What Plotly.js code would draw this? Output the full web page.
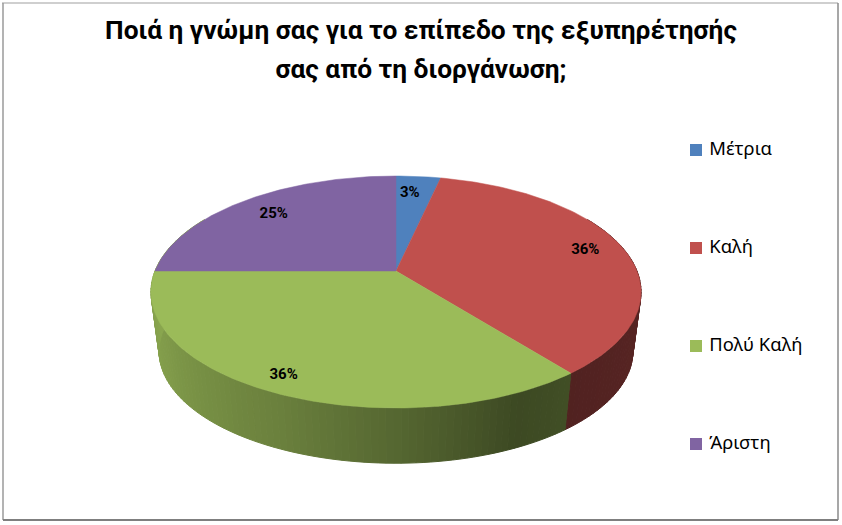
<!DOCTYPE html>
<html><head><meta charset="utf-8">
<script src="https://cdn.plot.ly/plotly-3.0.1.min.js"></script>
<style>html,body{margin:0;padding:0;background:#fff}</style></head>
<body><div id="chart" style="width:842px;height:525px"></div>
<script>
const categories = ["Μέτρια", "Καλή", "Πολύ Καλή", "Άριστη"];
const values = [3.5, 35.8, 35.7, 25];
const valueLabels = ["3%", "36%", "36%", "25%"];
const colors = ["#4F81BD", "#C0504D", "#9BBB59", "#8064A2"];
const titleLines = ["Ποιά η γνώμη σας για το επίπεδο της εξυπηρέτησής", "σας από τη διοργάνωση;"];

// Perspective projection of the pie disc onto the page (pixel-ranged hidden axes)
const K = 0.181;
const TOP = {cx: 396, cy: 271, a: 241, b: 112.2};
const BOTTOM = {cx: 396, cy: 331, a: 233, b: 108.3};
const labelRadius = [0.80, 0.835, 0.89, 0.79];
const labelTurn = [-1.6, -0.3, 0.9, 0];
const legendAt = {x: 696, y0: 150, dy: 98};
// wall brightness against the pie angle (deg from north, clockwise)
const shadeStops = [[60,.46],[100,.46],[142,.42],[155,.39],[180,.55],[205,.69],[240,.82],[270,.89],[300,.89]];

function project(f, theta, r) {
  const X = r * Math.sin(theta), Y = r * Math.cos(theta), w = 1 + K * Y;
  return [f.cx + f.a * X / w, f.cy - f.b * Y / w];
}
function shadeAt(d) {
  for (let i = 1; i < shadeStops.length; i++) {
    const [a, sa] = shadeStops[i-1], [b, sb] = shadeStops[i];
    if (d <= b) return sa + (sb - sa) * (d - a) / (b - a);
  }
  return shadeStops[shadeStops.length-1][1];
}
function rgb(hex, s) {
  const n = parseInt(hex.slice(1), 16);
  return `rgb(${Math.round((n>>16&255)*s)},${Math.round((n>>8&255)*s)},${Math.round((n&255)*s)})`;
}
const total = values.reduce((a, b) => a + b, 0);
const traces = [];
const bounds = [0];
values.forEach(v => bounds.push(bounds[bounds.length-1] + v / total * 360));

// side wall strips
const STEP = 1.5;
values.forEach((v, i) => {
  const from = Math.max(bounds[i], 60), to = Math.min(bounds[i+1], 300);
  for (let d = from; d < to; d += STEP) {
    const e = Math.min(d + STEP, to), t1 = d*Math.PI/180, t2 = e*Math.PI/180;
    const p = [project(TOP,t1,1), project(TOP,t2,1), project(BOTTOM,t2,1), project(BOTTOM,t1,1)];
    // the wall shading continues under the green colour where the purple slice turns to the back
    const c = rgb(d >= bounds[3] ? colors[2] : colors[i], shadeAt((d+e)/2));
    traces.push({type:"scatter", mode:"lines", x:p.map(q=>q[0]).concat(p[0][0]), y:p.map(q=>q[1]).concat(p[0][1]),
      fill:"toself", fillcolor:c, line:{color:c, width:1}, hoverinfo:"skip", showlegend:false});
  }
});
// top face slices
values.forEach((v, i) => {
  const xs = [TOP.cx], ys = [TOP.cy];
  for (let d = bounds[i]; ; d += 1) {
    const a = Math.min(d, bounds[i+1]), q = project(TOP, a*Math.PI/180, 1);
    xs.push(q[0]); ys.push(q[1]);
    if (d >= bounds[i+1]) break;
  }
  xs.push(TOP.cx); ys.push(TOP.cy);
  traces.push({type:"scatter", mode:"lines", x:xs, y:ys, fill:"toself", fillcolor:colors[i],
    line:{color:colors[i], width:0.5}, name:categories[i], hoverinfo:"name", showlegend:false});
});
// value labels
const lp = values.map((v, i) => project(TOP, ((bounds[i]+bounds[i+1])/2+labelTurn[i])*Math.PI/180, labelRadius[i]));
traces.push({type:"scatter", mode:"text", x:lp.map(p=>p[0]), y:lp.map(p=>p[1]), text:valueLabels,
  textposition:"middle center", textfont:{family:"Roboto, sans-serif", size:15, color:"#000", weight:700},
  hoverinfo:"skip", showlegend:false});
// legend entries, spaced as in the reference
categories.forEach((c, i) => traces.push({type:"scatter", mode:"markers+text", x:[legendAt.x], y:[legendAt.y0 + i*legendAt.dy],
  text:[" " + c], textposition:"middle right", textfont:{family:"Noto Sans, sans-serif", size:18.4, color:"#000"},
  name:c, marker:{symbol:"square", size:12, color:colors[i]}, hoverinfo:"name", showlegend:false, cliponaxis:false}));

const frame = (x0,y0,x1,y1,c,w) => ({type:"line", xref:"paper", yref:"paper", x0:x0/842, x1:x1/842, y0:1-y0/525, y1:1-y1/525, line:{color:c, width:w}});
const layout = {
  width:842, height:525, margin:{l:0,r:0,t:0,b:0}, paper_bgcolor:"#fff", plot_bgcolor:"#fff",
  showlegend:false,
  xaxis:{range:[0,842], visible:false, fixedrange:true},
  yaxis:{range:[525,0], visible:false, fixedrange:true},
  title:{text:`<span style="font-size:26.3px">${titleLines.join("<br>")}</span>`,
    font:{family:"Roboto, sans-serif", size:30, color:"#000", weight:700},
    x:0.5, xanchor:"center", y:0.925, yanchor:"top"},
  shapes:[frame(2,3,838,3,"#cfcfcf",2), frame(3,3,3,520,"#9a9a9a",1.5), frame(838,3,838,520,"#8a8a8a",1.5), frame(3,520,838,520,"#7f7f7f",2)]
};
Plotly.newPlot("chart", traces, layout, {displayModeBar:false, staticPlot:true});
</script></body></html>
